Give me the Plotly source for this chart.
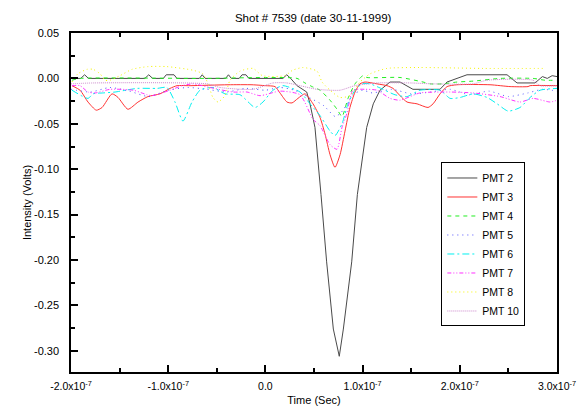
import numpy as np
import plotly.graph_objects as go

# ---------------- data (time in ns, intensity in volts) ----------------
t_pmt2 = [-200, -190, -186, -182, -124, -120, -116, -105, -102, -94, -91, -68, -65, -62, -41, -38, -35,
          -27, -24, -20, -17, 18, 22, 26, 32.5, 42.5, 45.9, 51, 57.2, 63, 69.9, 76, 80.2, 88.8, 94.6,
          104.2, 111, 117.9, 128.2, 138.5, 151.8, 179.6, 186.8, 207.4, 248.6, 258.9, 277.4, 285, 290, 295, 300]
v_pmt2 = [0.000, 0.000, 0.004, 0.000, 0.000, 0.004, 0.000, 0.000, 0.004, 0.004, 0.000, 0.000, 0.004, 0.000,
          0.000, 0.004, 0.000, 0.000, 0.004, 0.004, 0.000, 0.000, 0.004, 0.000, -0.008, -0.015, -0.028,
          -0.054, -0.128, -0.202, -0.276, -0.306, -0.276, -0.202, -0.128, -0.054, -0.028, -0.013, -0.004,
          -0.004, -0.012, -0.012, -0.004, 0.004, 0.004, -0.005, -0.005, 0.002, 0.000, 0.003, 0.002]

t_pmt3 = [-199, -190.7, -182.5, -174, -168, -157.8, -151.6, -141.4, -131, -120.8, -108.4, -98.1, -90.9,
          -77.5, -38.5, -13.8, 0, 9.9, 15, 22.2, 27.4, 33.5, 40.7, 49, 56.2, 61.3, 66.5, 71.6, 76.8, 81.9,
          87, 92.2, 97.3, 102.5, 114.8, 125.1, 131.3, 138.5, 145.7, 156, 167.3, 172.5, 179.7, 186.9, 197.1,
          231.1, 251.7, 270.2, 272.3, 300]
v_pmt3 = [-0.008, -0.013, -0.026, -0.035, -0.032, -0.017, -0.021, -0.034, -0.026, -0.020, -0.017, -0.011,
          -0.008, -0.008, -0.007, -0.007, -0.008, -0.009, -0.016, -0.026, -0.027, -0.022, -0.017, -0.028,
          -0.043, -0.061, -0.084, -0.098, -0.084, -0.058, -0.032, -0.015, -0.006, -0.004, -0.006, -0.008,
          -0.011, -0.019, -0.026, -0.028, -0.032, -0.028, -0.017, -0.009, -0.007, -0.007, -0.009, -0.009,
          -0.008, -0.008]

t_pmt4 = [-199, -190.7, -60, 0, 32.5, 40.7, 48, 56.2, 66.5, 73.7, 78.8, 85, 92.2, 100.4, 104.5, 138.5,
          162.2, 169.4, 182.8, 197.1, 213.6, 241.4, 275.4, 287.7, 300]
v_pmt4 = [-0.002, 0.000, 0.000, 0.001, 0.000, -0.005, -0.009, -0.013, -0.024, -0.034, -0.042, -0.022,
          -0.006, 0.003, 0.001, 0.001, -0.004, -0.006, -0.006, -0.004, -0.003, 0.000, 0.000, -0.002, -0.002]

t_pmt5 = [-200, -180, -160, -140, -120, -100, -80, -60, -40, -20, 0, 15, 30, 45, 60, 72, 80, 90, 100, 110,
          130, 150, 170, 190, 210, 230, 250, 270, 285, 300]
v_pmt5 = [-0.012, -0.015, -0.010, -0.014, -0.020, -0.013, -0.010, -0.012, -0.015, -0.011, -0.013, -0.010,
          -0.013, -0.021, -0.030, -0.042, -0.035, -0.018, -0.013, -0.016, -0.012, -0.017, -0.015, -0.012,
          -0.018, -0.014, -0.020, -0.016, -0.012, -0.014]

t_pmt6 = [-199, -182.5, -177.3, -167, -154.7, -132, -111.5, -101.3, -93, -84.8, -75.5, -67.3, -53.9, -41.6,
          -26.1, -10.7, -2.5, 7.8, 18.1, 35.6, 45.9, 56.2, 66.5, 71.6, 78.8, 85, 92.2, 99.4, 107.6, 121,
          133.3, 145.7, 159, 179.7, 190, 200.3, 213.7, 228.1, 238.4, 249.7, 262, 272.3, 282.6, 300]
v_pmt6 = [-0.013, -0.022, -0.017, -0.016, -0.015, -0.011, -0.011, -0.010, -0.026, -0.047, -0.026, -0.013,
          -0.010, -0.017, -0.018, -0.032, -0.026, -0.013, -0.008, -0.015, -0.028, -0.041, -0.058, -0.063,
          -0.050, -0.028, -0.013, -0.006, -0.006, -0.012, -0.018, -0.020, -0.013, -0.013, -0.022, -0.021,
          -0.017, -0.021, -0.028, -0.036, -0.032, -0.021, -0.013, -0.011]

t_pmt7 = [-199, -190.7, -182.5, -175, -159.6, -136, -121.8, -116.6, -98, -85.7, -74.5, -57, -33.3, -18.9,
          -5.6, 15, 35.6, 49, 56.2, 66.5, 73.7, 78.8, 84, 90.1, 102.5, 114.8, 128.2, 138.5, 159, 190, 213.7,
          241.4, 262, 275.4, 293, 300]
v_pmt7 = [-0.008, -0.008, -0.015, -0.016, -0.012, -0.013, -0.018, -0.019, -0.013, -0.008, -0.006, -0.010,
          -0.015, -0.015, -0.019, -0.014, -0.018, -0.045, -0.052, -0.073, -0.078, -0.054, -0.038, -0.013,
          -0.012, -0.013, -0.022, -0.024, -0.016, -0.015, -0.016, -0.020, -0.026, -0.022, -0.026, -0.024]

t_pmt8 = [-199, -193, -183.5, -177.3, -170, -165, -160, -149.6, -137.2, -120.7, -101.3, -74.5, -64.2, -59,
          -54, -48.8, -41.6, -36.4, -26.1, -12.8, -3, 20, 28, 38.7, 53.1, 58.3, 66.5, 76.8, 87, 97.3, 107.6,
          125, 159, 223.9, 287.7]
v_pmt8 = [-0.004, 0.005, 0.010, 0.010, 0.005, -0.002, -0.002, 0.003, 0.010, 0.013, 0.013, 0.009, 0.005,
          -0.006, -0.021, -0.026, -0.019, -0.002, 0.008, 0.011, 0.003, 0.003, 0.009, 0.012, 0.008, -0.004,
          -0.013, -0.021, -0.019, -0.004, 0.005, 0.011, 0.012, 0.011, 0.011]

t_pmt10 = [-200, -177, -60, -46.7, -12.8, 7.8, 22.2, 35.6, 53.1, 76.8, 92, 114.8, 148.8, 172.5, 213.7,
           228, 275.4, 282.6, 300]
v_pmt10 = [-0.006, -0.005, -0.006, -0.010, -0.012, -0.005, -0.005, -0.008, -0.012, -0.013, -0.008, -0.005,
           -0.005, -0.006, -0.006, -0.002, -0.002, -0.008, -0.008]

series_names = ["PMT 2", "PMT 3", "PMT 4", "PMT 5", "PMT 6", "PMT 7", "PMT 8", "PMT 10"]

x_tickvals = [-2e-7, -1e-7, 0.0, 1e-7, 2e-7, 3e-7]
x_ticktext = ["-2.0x10<sup>-7</sup>", "-1.0x10<sup>-7</sup>", "0.0",
              "1.0x10<sup>-7</sup>", "2.0x10<sup>-7</sup>", "3.0x10<sup>-7</sup>"]
x_minor = [-1.5e-7, -0.5e-7, 0.5e-7, 1.5e-7, 2.5e-7]
y_tickvals = [0.05, 0.00, -0.05, -0.10, -0.15, -0.20, -0.25, -0.30]
y_ticktext = ["0.05", "0.00", "-0.05", "-0.10", "-0.15", "-0.20", "-0.25", "-0.30"]
y_minor = [0.025, -0.025, -0.075, -0.125, -0.175, -0.225, -0.275]

# ---------------- styles ----------------
styles = [
    dict(color="#4a4a4a", dash="solid", shape="linear"),
    dict(color="#ff3333", dash="solid", shape="spline"),
    dict(color="#22ee22", dash="4px,4px", shape="spline"),
    dict(color="#5050ff", dash="1px,4px", shape="spline"),
    dict(color="#00f0f0", dash="7px,3px,2px,3px", shape="spline"),
    dict(color="#ff30ff", dash="4px,2px,1px,2px,1px,2px", shape="spline"),
    dict(color="#f5f500", dash="1px,3px", shape="spline"),
    dict(color="#cc88cc", dash="1px,1px", shape="spline"),
]

data = [(t_pmt2, v_pmt2), (t_pmt3, v_pmt3), (t_pmt4, v_pmt4), (t_pmt5, v_pmt5),
        (t_pmt6, v_pmt6), (t_pmt7, v_pmt7), (t_pmt8, v_pmt8), (t_pmt10, v_pmt10)]

fig = go.Figure()
for name, (t, v), st in zip(series_names, data, styles):
    fig.add_trace(go.Scatter(
        x=np.array(t) * 1e-9, y=v, mode="lines", name=name,
        line=dict(color=st["color"], dash=st["dash"], width=1, shape=st["shape"], smoothing=0.6),
    ))

FONT = "Liberation Sans, Arial, sans-serif"
fig.update_layout(
    width=581, height=417,
    margin=dict(l=71, r=24, t=33, b=45, autoexpand=False),
    paper_bgcolor="white", plot_bgcolor="white",
    font=dict(family=FONT, size=11, color="black"),
    title=dict(text="Shot # 7539 (date 30-11-1999)", x=0.539, xanchor="center",
               y=0.957, yanchor="middle", yref="container",
               font=dict(size=11.5, family=FONT, color="black")),
    showlegend=True,
    legend=dict(x=0.762, y=0.618, xanchor="left", yanchor="top", bgcolor="white",
                bordercolor="black", borderwidth=1, font=dict(size=10.5, family=FONT),
                itemwidth=30, tracegroupgap=0),
)
fig.update_xaxes(
    range=[-2e-7, 3e-7], tickmode="array", tickvals=x_tickvals, ticktext=x_ticktext,
    ticks="inside", ticklen=7, tickwidth=1.5, tickcolor="black", automargin=False,
    showline=True, linecolor="black", linewidth=1.5, mirror="ticks", showgrid=False, zeroline=False,
    minor=dict(tickmode="array", tickvals=x_minor, ticks="inside", ticklen=4, tickcolor="black", tickwidth=1.5),
    title=dict(text="Time (Sec)", font=dict(size=11, family=FONT), standoff=5),
    tickfont=dict(size=10.5, family=FONT), ticklabelstandoff=4,
)
fig.update_yaxes(
    range=[-0.3233, 0.05], tickmode="array", tickvals=y_tickvals, ticktext=y_ticktext,
    ticks="inside", ticklen=7, tickwidth=1.5, tickcolor="black", automargin=False,
    showline=True, linecolor="black", linewidth=1.5, mirror=True, showgrid=False, zeroline=False,
    minor=dict(tickmode="array", tickvals=y_minor, ticks="inside", ticklen=4, tickcolor="black", tickwidth=1.5),
    title=dict(text="Intensity (Volts)", font=dict(size=11, family=FONT), standoff=0),
    tickfont=dict(size=11, family=FONT), ticklabelstandoff=8,
)

# remove the default 8px page margin so the figure sits at the window's top-left corner
fig.write_html("out.html", config={"displayModeBar": False},
               post_script="document.body.style.margin='0';")
